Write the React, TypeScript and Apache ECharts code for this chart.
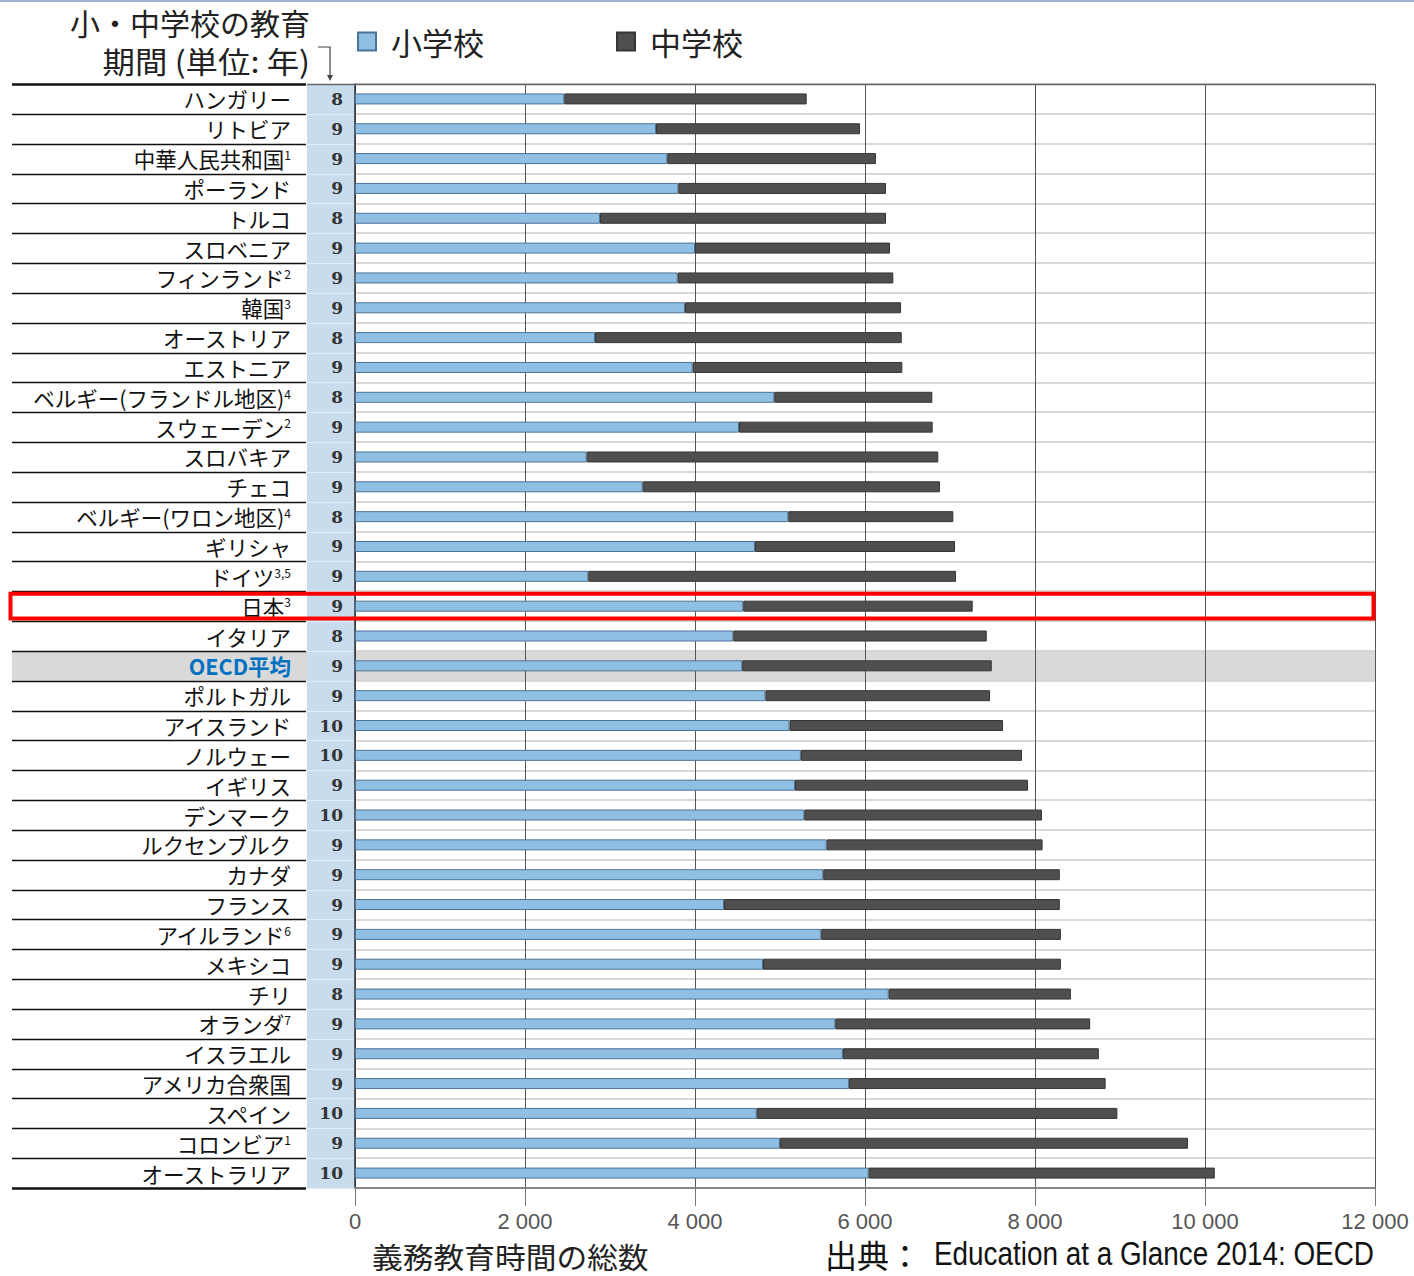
import React, { useEffect, useRef } from "react";
import * as echarts from "echarts";

// ---- data ----
const countries = [
  "ハンガリー", "リトビア", "中華人民共和国", "ポーランド", "トルコ", "スロベニア", "フィンランド", "韓国",
  "オーストリア", "エストニア", "ベルギー(フランドル地区)", "スウェーデン", "スロバキア", "チェコ",
  "ベルギー(ワロン地区)", "ギリシャ", "ドイツ", "日本", "イタリア", "OECD平均", "ポルトガル", "アイスランド",
  "ノルウェー", "イギリス", "デンマーク", "ルクセンブルク", "カナダ", "フランス", "アイルランド", "メキシコ",
  "チリ", "オランダ", "イスラエル", "アメリカ合衆国", "スペイン", "コロンビア", "オーストラリア",
];
const notes = [
  "", "", "1", "", "", "", "2", "3", "", "", "4", "2", "", "", "4", "", "3,5", "3", "", "", "", "",
  "", "", "", "", "", "", "6", "", "", "7", "", "", "", "1", "",
];
const years = [8, 9, 9, 9, 8, 9, 9, 9, 8, 9, 8, 9, 9, 9, 8, 9, 9, 9, 8, 9, 9, 10, 10, 9, 10, 9, 9, 9, 9, 9, 8, 9, 9, 9, 10, 9, 10];
const primary = [
  2462, 3541, 3674, 3804, 2882, 4000, 3796, 3882, 2824, 3973, 4933, 4518, 2726, 3385, 5098, 4706, 2745,
  4568, 4451, 4556, 4829, 5112, 5246, 5176, 5286, 5549, 5509, 4341, 5485, 4800, 6279, 5651, 5740, 5813,
  4727, 4999, 6044,
];
const lowerSecondary = [
  2852, 2400, 2455, 2443, 3365, 2294, 2537, 2542, 3608, 2466, 1859, 2278, 4136, 3497, 1941, 2353, 4326,
  2699, 2981, 2935, 2642, 2512, 2601, 2742, 2796, 2540, 2783, 3951, 2820, 3505, 2143, 2998, 3011, 3018,
  4242, 4801, 4071,
];
const seriesNames = ["小学校", "中学校"];
const xMin = 0;
const xMax = 12000;
const xStep = 2000;
const highlightCountry = "日本";
const averageCountry = "OECD平均";

// ---- layout ----
const W = 1414;
const H = 1276;
const GRID_LEFT = 355;
const GRID_RIGHT_X = 1375;
const GRID_TOP = 84;
const GRID_BOTTOM_Y = 1188;
const LABEL_LEFT = 12;
const YEARS_LEFT = 307;
const JP = '"Noto Sans CJK JP", "Noto Sans", sans-serif';
const SANS = '"Liberation Sans", Arial, sans-serif';

export default function App() {
  const ref = useRef<HTMLDivElement>(null);

  useEffect(() => {
    if (!ref.current) return;
    document.body.style.margin = "0";
    const chart = echarts.init(ref.current, null, { renderer: "svg" });
    const n = countries.length;
    const rowH = (GRID_BOTTOM_Y - GRID_TOP) / n;

    const graphics: any[] = [];
    graphics.push({ type: "rect", shape: { x: 0, y: 0, width: W, height: 2 }, style: { fill: "#9fb3d6" }, z: 1 });
    graphics.push({
      type: "rect",
      shape: { x: YEARS_LEFT, y: GRID_TOP, width: GRID_LEFT - YEARS_LEFT, height: GRID_BOTTOM_Y - GRID_TOP },
      style: { fill: "#c8dcee" },
      z: -20,
    });
    const avgIdx = countries.indexOf(averageCountry);
    graphics.push({
      type: "rect",
      shape: { x: LABEL_LEFT, y: GRID_TOP + avgIdx * rowH, width: GRID_RIGHT_X - LABEL_LEFT, height: rowH },
      style: { fill: "#d9d9d9" },
      z: -30,
    });
    for (let i = 0; i <= n; i++) {
      const y = Math.round(GRID_TOP + i * rowH) + 0.5;
      const edge = i === 0 || i === n;
      graphics.push({
        type: "line",
        shape: { x1: LABEL_LEFT, y1: y, x2: YEARS_LEFT - 1, y2: y },
        style: { stroke: "#111", lineWidth: edge ? 2.5 : 1.3 },
        z: 5,
      });
      graphics.push({
        type: "line",
        shape: { x1: YEARS_LEFT, y1: y, x2: GRID_LEFT, y2: y },
        style: { stroke: "#e3edf6", lineWidth: 1 },
        z: -10,
      });
    }
    graphics.push({
      type: "line",
      shape: { x1: YEARS_LEFT, y1: GRID_TOP + 0.5, x2: GRID_RIGHT_X, y2: GRID_TOP + 0.5 },
      style: { stroke: "#666", lineWidth: 1.5 },
      z: 5,
    });
    const hiIdx = countries.indexOf(highlightCountry);
    graphics.push({
      type: "rect",
      shape: { x: 10.5, y: GRID_TOP + hiIdx * rowH + 2.5, width: GRID_RIGHT_X - 12, height: rowH - 5 },
      style: { fill: "none", stroke: "#ff0000", lineWidth: 4 },
      z: 100,
    });
    // header texts
    graphics.push({
      type: "text",
      style: { text: "小・中学校の教育", x: 310, y: 22, align: "right", verticalAlign: "middle", font: `30px ${JP}`, fill: "#222" },
      z: 10,
    });
    graphics.push({
      type: "text",
      x: 310,
      y: 60,
      scaleX: 1.08,
      style: { text: "期間 (単位: 年)", x: 0, y: 0, align: "right", verticalAlign: "middle", font: `30px ${JP}`, fill: "#222" },
      z: 10,
    });
    graphics.push({
      type: "polyline",
      shape: { points: [[318, 47], [330, 47], [330, 78]] },
      style: { stroke: "#444", lineWidth: 1.2, fill: "none" },
      z: 10,
    });
    graphics.push({
      type: "polygon",
      shape: { points: [[327, 75], [333, 75], [330, 81]] },
      style: { fill: "#444" },
      z: 10,
    });
    // bottom texts
    graphics.push({
      type: "text",
      x: 372,
      y: 1256,
      scaleX: 1.06,
      style: { text: "義務教育時間の総数", x: 0, y: 0, verticalAlign: "middle", font: `29px ${JP}`, fill: "#222" },
      z: 10,
    });
    graphics.push({
      type: "text",
      style: { text: "出典：", x: 825, y: 1254, verticalAlign: "middle", font: `32px ${JP}`, fill: "#111" },
      z: 10,
    });
    graphics.push({
      type: "text",
      x: 934,
      y: 1254,
      scaleX: 0.82,
      style: { text: "Education at a Glance 2014: OECD", x: 0, y: 0, verticalAlign: "middle", font: `34px ${SANS}`, fill: "#111" },
      z: 10,
    });

    const option: any = {
      animation: false,
      backgroundColor: "#ffffff",
      legend: {
        data: seriesNames,
        left: 352,
        top: 21,
        itemWidth: 18,
        itemHeight: 18,
        itemGap: 132,
        icon: "rect",
        textStyle: { fontSize: 31, fontFamily: JP, color: "#222", padding: [0, 0, 0, 10] },
      },
      grid: {
        left: GRID_LEFT,
        right: W - GRID_RIGHT_X,
        top: GRID_TOP,
        bottom: H - GRID_BOTTOM_Y,
        containLabel: false,
      },
      xAxis: {
        type: "value",
        min: xMin,
        max: xMax,
        interval: xStep,
        position: "bottom",
        axisLine: { show: true, lineStyle: { color: "#888", width: 2 } },
        axisTick: { show: true, length: 18, lineStyle: { color: "#777" } },
        axisLabel: {
          margin: 22,
          fontSize: 22,
          fontFamily: SANS,
          color: "#555",
          formatter: (v: number) => (v === 0 ? "0" : `${Math.floor(v / 1000)} 000`),
        },
        splitLine: { show: true, lineStyle: { color: "#555", width: 1 } },
      },
      yAxis: [
        {
          type: "category",
          inverse: true,
          data: countries,
          axisLine: { show: true, lineStyle: { color: "#333", width: 1.5 } },
          axisTick: { show: false },
          splitLine: { show: true, lineStyle: { color: "#cdcdcd", width: 1.5 } },
          axisLabel: {
            margin: 64,
            formatter: (value: string, idx: number) => {
              if (value === averageCountry) return `{o|${value}}`;
              const nt = notes[idx];
              return nt ? `{n|${value}}{s|${nt}}` : `{n|${value}}`;
            },
            rich: {
              n: { fontSize: 21.5, fontFamily: JP, color: "#111" },
              s: { fontSize: 12, fontFamily: JP, color: "#111", verticalAlign: "bottom", padding: [0, 0, 9, 0] },
              o: { fontSize: 21.5, fontFamily: JP, fontWeight: "bold", color: "#0070c0" },
            },
          },
        },
        {
          type: "category",
          inverse: true,
          position: "left",
          data: countries,
          axisLine: { show: false },
          axisTick: { show: false },
          splitLine: { show: false },
          axisLabel: {
            margin: 12,
            fontSize: 17,
            fontWeight: "bold",
            fontFamily: '"DejaVu Serif", serif',
            color: "#333",
            formatter: (_v: string, idx: number) => String(years[idx]),
          },
        },
      ],
      series: [
        {
          name: seriesNames[0],
          type: "bar",
          stack: "total",
          yAxisIndex: 0,
          barWidth: 11,
          data: primary,
          itemStyle: { color: "#8fbfe3", borderColor: "#4d7396", borderWidth: 1 },
        },
        {
          name: seriesNames[1],
          type: "bar",
          stack: "total",
          yAxisIndex: 0,
          barWidth: 11,
          data: lowerSecondary,
          itemStyle: { color: "#4f4f4f", borderColor: "#353535", borderWidth: 1 },
        },
      ],
      graphic: graphics,
    };
    chart.setOption(option);
    return () => chart.dispose();
  }, []);

  return <div ref={ref} style={{ position: "absolute", left: 0, top: 0, width: W, height: H }} />;
}
